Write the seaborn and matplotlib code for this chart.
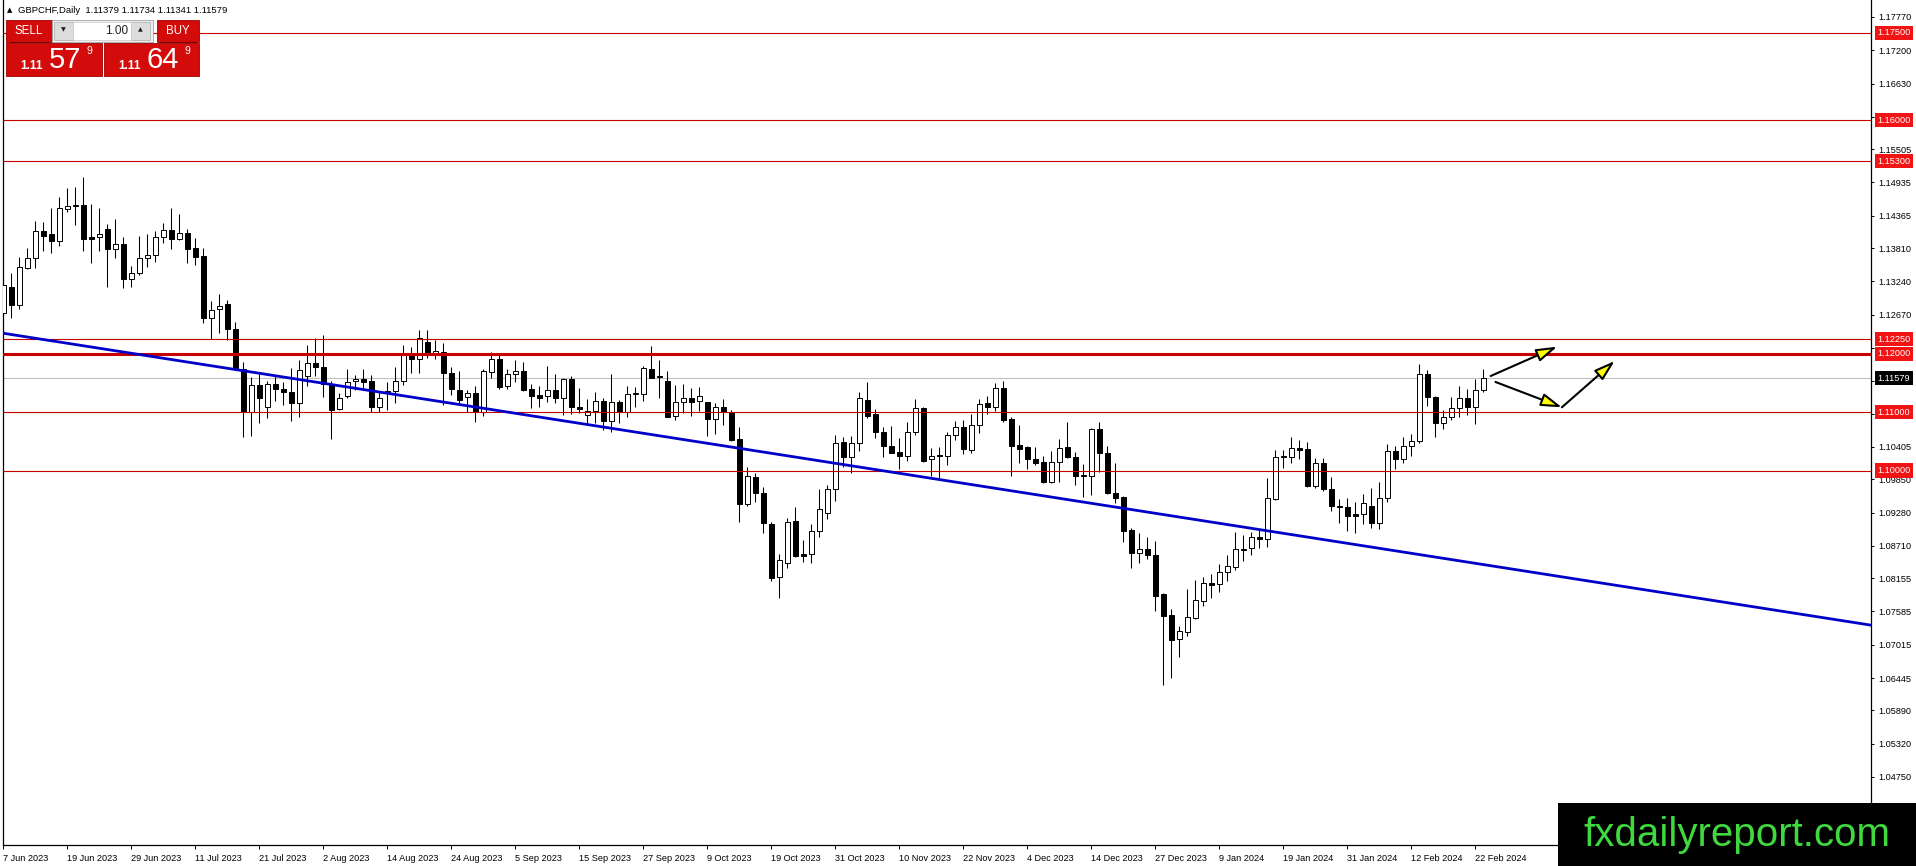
import numpy as np
import pandas as pd
import matplotlib.pyplot as plt
import matplotlib.patches as mpatches
import seaborn as sns

# daily GBPCHF candles (7 Jun 2023 .. 23 Feb 2024)
opens = [1.12694, 1.13139, 1.12842, 1.13465, 1.13647, 1.14104, 1.14053, 1.13938, 1.14487, 1.14549,
         1.14549, 1.13996, 1.13996, 1.14133, 1.13790, 1.13881, 1.13276, 1.13379, 1.13636, 1.13693,
         1.13996, 1.14121, 1.13973, 1.14064, 1.13807, 1.13676, 1.12608, 1.12762, 1.12854, 1.12420,
         1.11734, 1.11009, 1.11465, 1.11083, 1.11482, 1.11397, 1.11351, 1.11163, 1.11619, 1.11848,
         1.11768, 1.11482, 1.11048, 1.11277, 1.11534, 1.11568, 1.11534, 1.11083, 1.11362, 1.11368,
         1.11539, 1.11996, 1.11905, 1.12208, 1.12008, 1.12036, 1.11677, 1.11380, 1.11254, 1.11322,
         1.11008, 1.11694, 1.11905, 1.11448, 1.11648, 1.11705, 1.11391, 1.11294, 1.11276, 1.11373,
         1.11236, 1.11568, 1.11082, 1.10951, 1.11019, 1.11191, 1.10854, 1.11174, 1.11008, 1.11305,
         1.11305, 1.11739, 1.11619, 1.11533, 1.10940, 1.11168, 1.11236, 1.11191, 1.11179, 1.10877,
         1.11082, 1.11008, 1.10534, 1.09421, 1.09895, 1.09621, 1.09084, 1.08170, 1.08410, 1.09136,
         1.08570, 1.08570, 1.08964, 1.09267, 1.09678, 1.10489, 1.10226, 1.10466, 1.11208, 1.10968,
         1.10660, 1.10420, 1.10317, 1.10255, 1.10660, 1.11065, 1.10192, 1.10260, 1.10255, 1.10603,
         1.10740, 1.10352, 1.10780, 1.11151, 1.11094, 1.11408, 1.10877, 1.10432, 1.10397, 1.10198,
         1.10140, 1.09810, 1.10152, 1.10398, 1.10226, 1.09924, 1.09912, 1.10706, 1.10295, 1.09621,
         1.09541, 1.08982, 1.08582, 1.08656, 1.08553, 1.07880, 1.07526, 1.07109, 1.07240, 1.07480,
         1.07771, 1.08068, 1.08051, 1.08268, 1.08354, 1.08656, 1.08668, 1.08856, 1.08822, 1.09513,
         1.10249, 1.10226, 1.10381, 1.10363, 1.09741, 1.10123, 1.09678, 1.09398, 1.09381, 1.09249,
         1.09249, 1.09392, 1.09095, 1.09524, 1.10340, 1.10192, 1.10420, 1.10511, 1.11648, 1.11254,
         1.10808, 1.10922, 1.11077, 1.11248, 1.11082, 1.11379]
highs = [1.13219, 1.13379, 1.13653, 1.13807, 1.14275, 1.14264, 1.14492, 1.14692, 1.14835, 1.14852,
         1.15023, 1.14567, 1.14492, 1.14224, 1.14304, 1.13996, 1.13510, 1.14018, 1.14053, 1.14104,
         1.14247, 1.14492, 1.14395, 1.14133, 1.13978, 1.13807, 1.12905, 1.13025, 1.12922, 1.12551,
         1.11866, 1.11597, 1.11648, 1.11539, 1.11637, 1.11522, 1.11751, 1.11893, 1.12150, 1.12265,
         1.12322, 1.11539, 1.11322, 1.11734, 1.11637, 1.11734, 1.11637, 1.11351, 1.11522, 1.11768,
         1.12150, 1.12110, 1.12407, 1.12407, 1.12236, 1.12190, 1.11768, 1.11711, 1.11380, 1.11448,
         1.11734, 1.12036, 1.11996, 1.11734, 1.11893, 1.11865, 1.11482, 1.11448, 1.11790, 1.11653,
         1.11590, 1.11619, 1.11419, 1.11219, 1.11339, 1.11236, 1.11653, 1.11208, 1.11448, 1.11425,
         1.11790, 1.12133, 1.11893, 1.11705, 1.11465, 1.11482, 1.11408, 1.11425, 1.11179, 1.11151,
         1.11219, 1.11037, 1.10740, 1.10054, 1.09952, 1.09712, 1.09124, 1.08570, 1.09181, 1.09381,
         1.08810, 1.09084, 1.09684, 1.09752, 1.10609, 1.10580, 1.10591, 1.11339, 1.11511, 1.11048,
         1.10740, 1.10763, 1.10551, 1.10837, 1.11225, 1.11094, 1.10380, 1.10397, 1.10666, 1.10848,
         1.10865, 1.10968, 1.11225, 1.11277, 1.11494, 1.11534, 1.10923, 1.10780, 1.10420, 1.10397,
         1.10249, 1.10335, 1.10541, 1.10837, 1.10312, 1.10107, 1.10723, 1.10837, 1.10421, 1.10135,
         1.09564, 1.09010, 1.08925, 1.08856, 1.08793, 1.07897, 1.07628, 1.07343, 1.07965, 1.08125,
         1.08171, 1.08228, 1.08399, 1.08553, 1.08942, 1.08896, 1.08942, 1.08982, 1.09867, 1.10352,
         1.10352, 1.10569, 1.10523, 1.10494, 1.10209, 1.10209, 1.09883, 1.09506, 1.09524, 1.09466,
         1.09598, 1.09706, 1.09809, 1.10454, 1.10420, 1.10568, 1.10626, 1.11825, 1.11722, 1.11277,
         1.11037, 1.11254, 1.11448, 1.11391, 1.11568, 1.11734]
lows = [1.12534, 1.12608, 1.12762, 1.13453, 1.13476, 1.13767, 1.13733, 1.13853, 1.14435, 1.14207,
        1.13767, 1.13550, 1.13767, 1.13150, 1.13647, 1.13122, 1.13139, 1.13350, 1.13493, 1.13579,
        1.13904, 1.13790, 1.13950, 1.13562, 1.13522, 1.12534, 1.12248, 1.12363, 1.12237, 1.11723,
        1.10581, 1.10592, 1.10820, 1.10894, 1.11197, 1.11123, 1.10854, 1.10923, 1.11448, 1.11619,
        1.11254, 1.10535, 1.11037, 1.11237, 1.11380, 1.11380, 1.11008, 1.11008, 1.11037, 1.11163,
        1.11465, 1.11677, 1.11677, 1.11922, 1.11905, 1.11123, 1.11294, 1.11163, 1.11008, 1.10837,
        1.10934, 1.11579, 1.11391, 1.11391, 1.11522, 1.11362, 1.11065, 1.11082, 1.11179, 1.11151,
        1.10945, 1.10968, 1.10979, 1.10797, 1.10820, 1.10694, 1.10654, 1.10808, 1.10922, 1.11082,
        1.11191, 1.11579, 1.11236, 1.10911, 1.10865, 1.10979, 1.10934, 1.11025, 1.10597, 1.10620,
        1.10780, 1.10506, 1.09124, 1.09398, 1.09466, 1.08924, 1.08113, 1.07810, 1.08325, 1.08525,
        1.08439, 1.08410, 1.08867, 1.09164, 1.09484, 1.10066, 1.09963, 1.10340, 1.10894, 1.10551,
        1.10226, 1.10294, 1.10020, 1.10163, 1.10609, 1.10152, 1.09906, 1.09866, 1.10095, 1.10523,
        1.10283, 1.10306, 1.10649, 1.10963, 1.11025, 1.10837, 1.09912, 1.10123, 1.10026, 1.10095,
        1.09781, 1.09781, 1.09810, 1.10210, 1.09753, 1.09553, 1.09581, 1.09981, 1.09598, 1.09450,
        1.08782, 1.08336, 1.08422, 1.08479, 1.07600, 1.06327, 1.06441, 1.06812, 1.07172, 1.07457,
        1.07686, 1.07823, 1.07925, 1.08114, 1.08296, 1.08456, 1.08553, 1.08668, 1.08685, 1.09496,
        1.10038, 1.10135, 1.10192, 1.09712, 1.09695, 1.09655, 1.09312, 1.09107, 1.08970, 1.08924,
        1.09084, 1.09010, 1.08998, 1.09466, 1.10026, 1.10135, 1.10254, 1.10477, 1.11105, 1.10580,
        1.10711, 1.10865, 1.10922, 1.10951, 1.10797, 1.11341]
closes = [1.13179, 1.12842, 1.13482, 1.13636, 1.14104, 1.14024, 1.13938, 1.14492, 1.14532, 1.14527,
          1.13973, 1.13973, 1.14047, 1.13790, 1.13881, 1.13276, 1.13379, 1.13636, 1.13693, 1.13996,
          1.14121, 1.13973, 1.14064, 1.13790, 1.13664, 1.12608, 1.12751, 1.12819, 1.12420, 1.11734,
          1.11009, 1.11466, 1.11237, 1.11482, 1.11391, 1.11340, 1.11151, 1.11722, 1.11848, 1.11768,
          1.11482, 1.11037, 1.11237, 1.11511, 1.11568, 1.11522, 1.11083, 1.11237, 1.11340, 1.11539,
          1.11996, 1.11905, 1.12265, 1.11996, 1.12042, 1.11665, 1.11391, 1.11208, 1.11322, 1.11008,
          1.11705, 1.11905, 1.11437, 1.11648, 1.11705, 1.11379, 1.11282, 1.11248, 1.11373, 1.11236,
          1.11568, 1.11082, 1.11059, 1.11019, 1.11191, 1.10854, 1.11174, 1.11008, 1.11305, 1.11322,
          1.11750, 1.11590, 1.11596, 1.10922, 1.11174, 1.11236, 1.11179, 1.11282, 1.10877, 1.11082,
          1.10997, 1.10523, 1.09421, 1.09906, 1.09609, 1.09095, 1.08153, 1.08467, 1.09113, 1.08542,
          1.08542, 1.08964, 1.09336, 1.09678, 1.10477, 1.10226, 1.10466, 1.11237, 1.10940, 1.10654,
          1.10426, 1.10306, 1.10255, 1.10660, 1.11065, 1.10169, 1.10255, 1.10249, 1.10603, 1.10740,
          1.10369, 1.10780, 1.11140, 1.11094, 1.11408, 1.10865, 1.10426, 1.10374, 1.10192, 1.10135,
          1.09809, 1.10141, 1.10381, 1.10226, 1.09912, 1.09912, 1.10706, 1.10295, 1.09610, 1.09536,
          1.08970, 1.08582, 1.08651, 1.08553, 1.07857, 1.07514, 1.07097, 1.07252, 1.07486, 1.07783,
          1.08068, 1.08045, 1.08268, 1.08365, 1.08651, 1.08633, 1.08856, 1.08822, 1.09524, 1.10238,
          1.10226, 1.10381, 1.10352, 1.09741, 1.10123, 1.09683, 1.09398, 1.09381, 1.09227, 1.09227,
          1.09438, 1.09095, 1.09524, 1.10340, 1.10192, 1.10420, 1.10511, 1.11648, 1.11254, 1.10808,
          1.10922, 1.11077, 1.11248, 1.11082, 1.11379, 1.11579]

symbol = 'GBPCHF,Daily'
bid, ask = 1.11579, 1.11649
lot = '1.00'
levels = [1.17500, 1.16000, 1.15300, 1.12250, 1.12000, 1.11000, 1.10000]
thick_level = 1.12000
price_ticks = [1.17770, 1.17200, 1.16630, 1.16060, 1.15505, 1.14935, 1.14365, 1.13810, 1.13240,
               1.12670, 1.12100, 1.11535, 1.10975, 1.10405, 1.09850, 1.09280, 1.08710, 1.08155,
               1.07585, 1.07015, 1.06445, 1.05890, 1.05320, 1.04750, 1.04180]
# scale labels that sit under the level boxes are left blank
hidden_ticks = [1.12100]
# trend line anchors (bar index, price) and the three drawn arrows
trend_a = (0, 1.12351)
trend_b = (164, 1.08838)
arrows = [((185.9, 1.11619), (194.2, 1.12121)),
          ((186.5, 1.11517), (194.8, 1.11083)),
          ((194.8, 1.11083), (201.4, 1.11876))]

df = pd.DataFrame({'open': opens, 'high': highs, 'low': lows, 'close': closes})
dates = pd.bdate_range('2023-06-07', periods=len(df), freq='C',
                       holidays=['2023-12-25', '2024-01-01'])
tick_idx = list(range(0, len(df), 8))
tick_labels = [f'{dates[i].day} {dates[i]:%b %Y}' for i in tick_idx]

sns.set_theme(style='white')
plt.rcParams['font.family'] = ['Liberation Sans', 'DejaVu Sans']

W, H = 1916, 866
fig = plt.figure(figsize=(W / 100, H / 100), dpi=100)
fig.patch.set_facecolor('white')
ax = fig.add_axes([3 / W, 21 / H, 1868 / W, 845 / H])
ax.set_facecolor('white')

# candles
up = df['close'] >= df['open']
ax.vlines(df.index, df['low'], df['high'], color='black', lw=0.75, zorder=3)
body_lo = df[['open', 'close']].min(axis=1)
body_h = (df['close'] - df['open']).abs().clip(lower=0.00004)
ax.bar(df.index, body_h, bottom=body_lo, width=0.52,
       color=np.where(up, 'white', 'black'), edgecolor='black', linewidth=0.7, zorder=4)

# horizontal levels, current price, trend line
ax.axhline(closes[-1], color='#c0c0c0', lw=0.8, zorder=2)
for lv in levels:
    ax.axhline(lv, color='#c80000', lw=2.2 if lv == thick_level else 0.8, zorder=5)
ax.axline(trend_a, trend_b, color='#0000c8', lw=2.0, zorder=6)

for start, end in arrows:
    ax.annotate('', xy=end, xytext=start, zorder=7,
                arrowprops=dict(arrowstyle='-|>,head_length=0.9,head_width=0.28',
                                fc='#ffff00', ec='black', lw=1.5, mutation_scale=14,
                                shrinkA=0, shrinkB=0))

ax.set_xlim(-0.06, 233.44)
ax.set_ylim(1.03584, 1.18061)

ax.yaxis.tick_right()
ax.set_yticks(price_ticks)
ax.set_yticklabels(['' if p in hidden_ticks else f'{p:.5f}' for p in price_ticks])
ax.set_xticks(tick_idx)
ax.set_xticklabels(tick_labels, ha='left')
ax.tick_params(axis='y', direction='out', length=2.5, width=0.7, pad=3,
               labelsize=6.6, colors='black', right=True, left=False)
ax.tick_params(axis='x', direction='out', length=3, width=0.7, pad=3.5,
               labelsize=6.6, colors='black', bottom=True)
for side in ['left', 'bottom', 'right']:
    ax.spines[side].set_visible(True)
    ax.spines[side].set_color('black')
    ax.spines[side].set_linewidth(0.9)
ax.spines['top'].set_visible(False)
ax.grid(False)

ytr = ax.get_yaxis_transform()
for lv in levels:
    ax.text(1.0035, lv, f'{lv:.5f}', transform=ytr, ha='left', va='center',
            fontsize=6.6, color='white', zorder=8, clip_on=False,
            bbox=dict(boxstyle='square,pad=0.28', fc='#f01414', ec='none'))
ax.text(1.0035, closes[-1], f'{closes[-1]:.5f}', transform=ytr, ha='left', va='center',
        fontsize=6.6, color='white', zorder=8, clip_on=False,
        bbox=dict(boxstyle='square,pad=0.28', fc='black', ec='none'))

# overlay in pixel coordinates: header, trade panel, logo
ui = fig.add_axes([0, 0, 1, 1], zorder=10)
ui.set_xlim(0, W)
ui.set_ylim(H, 0)
ui.set_axis_off()

ohlc = f'{opens[-1]:.5f} {highs[-1]:.5f} {lows[-1]:.5f} {closes[-1]:.5f}'
ui.text(10, 10.5, '▲', fontsize=5, ha='center', va='center', color='black',
        family=['DejaVu Sans'])
ui.text(18, 10.5, f'{symbol}  {ohlc}', fontsize=6.8, ha='left', va='center', color='black')

red = '#d40b0b'
for x, y, w, h in [(6, 20, 46, 22), (157, 20, 42, 22), (6, 43, 96, 33), (104, 43, 95, 33)]:
    ui.add_patch(mpatches.Rectangle((x, y), w, h, fc=red, ec='#a00000', lw=0.6))
ui.plot([10, 48], [41.5, 41.5], color='#7a0000', lw=0.8)
ui.plot([160, 196], [41.5, 41.5], color='#7a0000', lw=0.8)
ui.add_patch(mpatches.Rectangle((52, 20), 101, 22, fc='#f0f0f0', ec='#a0a0a0', lw=0.6))
ui.add_patch(mpatches.Rectangle((54, 22), 19, 18, fc='#dcdcdc', ec='#b4b4b4', lw=0.6))
ui.add_patch(mpatches.Rectangle((131, 22), 19, 18, fc='#dcdcdc', ec='#b4b4b4', lw=0.6))
ui.add_patch(mpatches.Rectangle((73, 22), 58, 18, fc='white', ec='#c8c8c8', lw=0.5))
ui.text(63.5, 30, '▼', fontsize=4.5, ha='center', va='center', color='#202020',
        family=['DejaVu Sans'])
ui.text(140.5, 30, '▲', fontsize=4.5, ha='center', va='center', color='#202020',
        family=['DejaVu Sans'])
ui.text(128, 30.5, lot, fontsize=8.5, ha='right', va='center', color='#202020')
ui.text(29, 31, 'SELL', fontsize=8.3, ha='center', va='center', color='white')
ui.text(178, 31, 'BUY', fontsize=8.3, ha='center', va='center', color='white')

for px, price in [(0, bid), (98, ask)]:
    s = f'{price:.5f}'
    ui.text(32 + px, 66, s[:4], fontsize=8.5, fontweight='bold', ha='center', va='center',
            color='white')
    ui.text(65 + px, 59.5, s[4:6], fontsize=21, ha='center', va='center', color='white')
    ui.text(89 + px, 51, s[6], fontsize=7.5, ha='center', va='center', color='white')

ui.add_patch(mpatches.Rectangle((1558, 803), W - 1558, H - 803, fc='black', ec='none'))
ui.text(1737, 835, 'fxdailyreport.com', fontsize=29, ha='center', va='center',
        color='#3fd93f')

fig.savefig('out.png', dpi=100, facecolor='white')
